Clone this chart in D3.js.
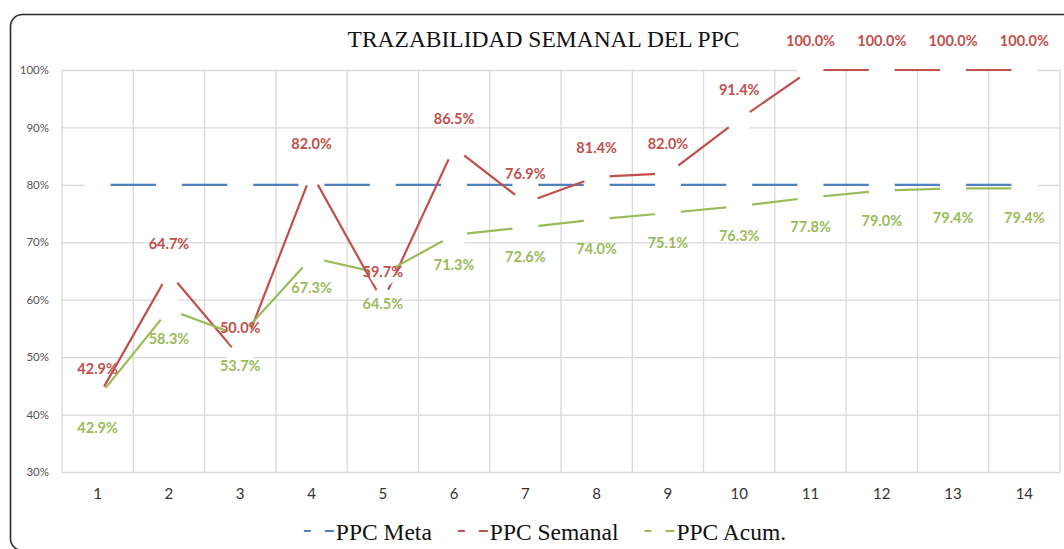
<!DOCTYPE html>
<html>
<head>
<meta charset="utf-8">
<script src="https://cdn.jsdelivr.net/npm/d3@7/dist/d3.min.js"></script>
<style>
  html, body { margin: 0; padding: 0; background: #fff; }
  svg { display: block; }
</style>
</head>
<body>
<svg id="chart" width="1064" height="549"></svg>
<script>
// Weekly PPC tracking data
const weeks = [1, 2, 3, 4, 5, 6, 7, 8, 9, 10, 11, 12, 13, 14];
const ppcMeta = [80, 80, 80, 80, 80, 80, 80, 80, 80, 80, 80, 80, 80, 80];
const ppcSemanal = [42.9, 64.7, 50.0, 82.0, 59.7, 86.5, 76.9, 81.4, 82.0, 91.4, 100.0, 100.0, 100.0, 100.0];
const ppcAcum = [42.9, 58.3, 53.7, 67.3, 64.5, 71.3, 72.6, 74.0, 75.1, 76.3, 77.8, 79.0, 79.4, 79.4];
const yTicks = [30, 40, 50, 60, 70, 80, 90, 100];
const seriesNames = ["PPC Meta", "PPC Semanal", "PPC Acum."];

const colors = { meta: "#4f81bd", semanal: "#c0504d", acum: "#9bbb59" };

const svg = d3.select("#chart");
const plot = { left: 62, right: 1060, top: 70, bottom: 472 };

const x = d3.scaleBand().domain(weeks).range([plot.left, plot.right]);
const bw = x.bandwidth();
const cx = d => x(d) + bw / 2;
const y = d3.scaleLinear().domain([30, 100]).range([plot.bottom, plot.top]);

// Outer chart frame
svg.append("rect")
  .attr("x", 10.5).attr("y", 14.5)
  .attr("width", 1080).attr("height", 536)
  .attr("rx", 12).attr("ry", 12)
  .attr("fill", "#fff")
  .attr("stroke", "#2b2b2b").attr("stroke-width", 1.6);

// Title
svg.append("text")
  .attr("x", 543.5).attr("y", 47)
  .attr("text-anchor", "middle")
  .attr("font-family", "'Liberation Serif', 'Times New Roman', serif")
  .attr("font-size", 23.5)
  .attr("fill", "#111")
  .text("TRAZABILIDAD SEMANAL DEL PPC");

// Horizontal gridlines + y labels
const yAxis = svg.append("g")
  .attr("transform", `translate(${plot.left},0)`)
  .call(d3.axisLeft(y).tickValues(yTicks).tickFormat(d => d + "%")
    .tickSize(-(plot.right - plot.left)).tickPadding(13));
yAxis.select(".domain").remove();
yAxis.selectAll(".tick line").attr("stroke", "#d9d9d9").attr("stroke-width", 1.3);
yAxis.selectAll(".tick text")
  .attr("font-family", "Lato, 'Noto Sans', sans-serif")
  .attr("font-size", 11.5)
  .attr("fill", "#555");

// Vertical gridlines at the category boundaries
const edges = weeks.map(d => x(d)).concat([plot.right]);
svg.append("g").selectAll("line").data(edges).join("line")
  .attr("x1", d => d).attr("x2", d => d)
  .attr("y1", plot.top).attr("y2", plot.bottom)
  .attr("stroke", "#d9d9d9").attr("stroke-width", 1.3);

// x axis labels
const xAxis = svg.append("g")
  .attr("transform", `translate(0,${plot.bottom})`)
  .call(d3.axisBottom(x).tickSize(0).tickPadding(16));
xAxis.select(".domain").remove();
xAxis.selectAll(".tick text")
  .attr("font-family", "Lato, 'Noto Sans', sans-serif")
  .attr("font-size", 15)
  .attr("fill", "#333");

// Series: line, then white markers that open a gap around every point
const series = [
  { key: "meta", values: ppcMeta, color: colors.meta },
  { key: "semanal", values: ppcSemanal, color: colors.semanal },
  { key: "acum", values: ppcAcum, color: colors.acum }
];
const line = d3.line().x((d, i) => cx(weeks[i])).y(d => y(d));

series.forEach(s => {
  const g = svg.append("g").attr("class", "series-" + s.key);
  g.append("path")
    .datum(s.values)
    .attr("d", line)
    .attr("fill", "none")
    .attr("stroke", s.color)
    .attr("stroke-width", 2.2);
  g.selectAll("circle").data(s.values).join("circle")
    .attr("cx", (d, i) => cx(weeks[i]))
    .attr("cy", d => y(d))
    .attr("r", 13)
    .attr("fill", "#fff");
});

// Data labels: weekly above the point, cumulative below
const labelFont = "Lato, 'Noto Sans', sans-serif";
svg.append("g").selectAll("text").data(ppcSemanal).join("text")
  .attr("x", (d, i) => cx(weeks[i]))
  .attr("y", d => y(d) - 24)
  .attr("text-anchor", "middle")
  .attr("font-family", labelFont)
  .attr("font-weight", "bold")
  .attr("font-size", 14.5)
  .attr("fill", colors.semanal)
  .text(d => d.toFixed(1) + "%");

svg.append("g").selectAll("text").data(ppcAcum).join("text")
  .attr("x", (d, i) => cx(weeks[i]))
  .attr("y", d => y(d) + 35)
  .attr("text-anchor", "middle")
  .attr("font-family", labelFont)
  .attr("font-weight", "bold")
  .attr("font-size", 14.5)
  .attr("fill", colors.acum)
  .text(d => d.toFixed(1) + "%");

// Legend
const legend = svg.append("g");
const legendColors = [colors.meta, colors.semanal, colors.acum];
const symW = 30, symGap = 2, itemGap = 26, legendY = 540;
const items = seriesNames.map((name, i) => {
  const g = legend.append("g");
  g.append("line")
    .attr("x1", 0).attr("x2", symW)
    .attr("y1", legendY - 9).attr("y2", legendY - 9)
    .attr("stroke", legendColors[i]).attr("stroke-width", 2.2)
    .attr("stroke-dasharray", "7,14,9");
  const t = g.append("text")
    .attr("x", symW + symGap).attr("y", legendY)
    .attr("font-family", "'Liberation Serif', 'Times New Roman', serif")
    .attr("font-size", 23.5)
    .attr("fill", "#111")
    .text(name);
  return { g, w: symW + symGap + t.node().getComputedTextLength() };
});
const totalW = d3.sum(items, d => d.w) + itemGap * (items.length - 1);
let lx = 545 - totalW / 2;
items.forEach(it => {
  it.g.attr("transform", `translate(${lx},0)`);
  lx += it.w + itemGap;
});
</script>
</body>
</html>
